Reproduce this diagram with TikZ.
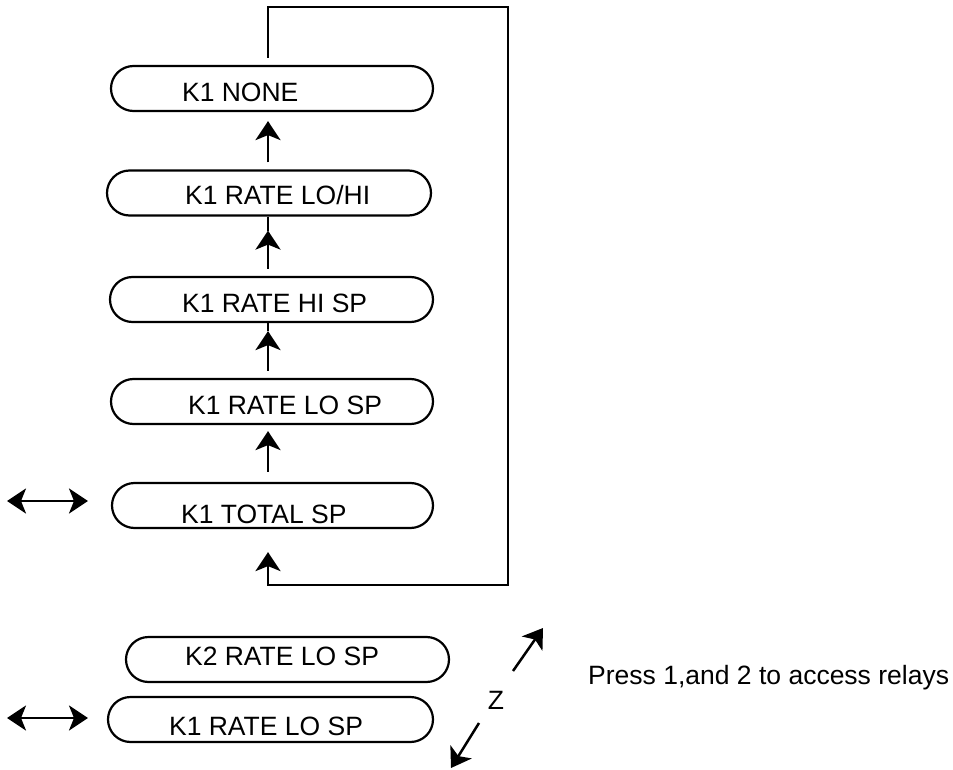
\documentclass[tikz,border=0pt]{standalone}
\usepackage{fontspec}
\setmainfont{Liberation Sans}
\usetikzlibrary{arrows.meta}
\begin{document}
\begin{tikzpicture}[x=1pt,y=-1pt,
  stadium/.style={draw, line width=2.2pt, rounded corners=22.5pt,
    minimum height=45pt, inner sep=0pt},
  lbl/.style={font=\fontsize{26.5}{30}\selectfont, inner sep=0pt, anchor=base west},
  line/.style={line width=2.5pt},
  tip/.style={Stealth[length=19pt,width=25pt,inset=5pt]},
  arr/.style={line, -{Stealth[length=19pt,width=25pt,inset=5pt]}},
  dbl/.style={line, {Stealth[length=19pt,width=25pt,inset=5pt]}-{Stealth[length=19pt,width=25pt,inset=5pt]}}]
\useasboundingbox (0,0) rectangle (953,770);

% column of K1 menu items
\node[stadium, minimum width=322pt] (none) at (272,88.5) {};
\node[lbl] (noneT) at ([xshift=72pt,yshift=-13.5pt]none.west) {K1 NONE};
\node[stadium, minimum width=324pt] (lohi) at (269,193) {};
\node[lbl] (lohiT) at ([xshift=79pt,yshift=-12pt]lohi.west) {K1 RATE LO/HI};
\node[stadium, minimum width=323pt] (hisp) at (271.5,299.5) {};
\node[lbl] (hispT) at ([xshift=73pt,yshift=-12.5pt]hisp.west) {K1 RATE HI SP};
\node[stadium, minimum width=322pt] (losp) at (272,401.5) {};
\node[lbl] (lospT) at ([xshift=78pt,yshift=-12.5pt]losp.west) {K1 RATE LO SP};
\node[stadium, minimum width=321pt] (tot) at (272.5,505.5) {};
\node[lbl] (totT) at ([xshift=70pt,yshift=-17.5pt]tot.west) {K1 TOTAL SP};

% relay selector items
\node[stadium, minimum width=323pt] (ktwo) at (287.5,659.5) {};
\node[lbl] (ktwoT) at ([xshift=60pt,yshift=-5.5pt]ktwo.west) {K2 RATE LO SP};
\node[stadium, minimum width=325pt] (kone) at (270.5,719.5) {};
\node[lbl] (koneT) at ([xshift=62pt,yshift=-15.5pt]kone.west) {K1 RATE LO SP};

% vertical axis of the arrows
\coordinate (ax) at (268,0);

% upward steps
\draw[arr, shorten <=7pt, shorten >=9pt] (lohi.north -| ax) -- (none.south -| ax);
\draw[arr, shorten <=7pt, shorten >=14pt] (hisp.north -| ax) -- (lohi.south -| ax);
\draw[line] (lohi.south -| ax) -- ++(0,14);
\draw[arr, shorten <=7pt, shorten >=8pt] (losp.north -| ax) -- (hisp.south -| ax);
\draw[line] (hisp.south -| ax) -- ++(0,8);
\draw[arr, shorten <=10pt, shorten >=6pt] (tot.north -| ax) -- (losp.south -| ax);

% wrap-around from the top item back to the first
\coordinate (tr) at (508,7);
\coordinate (br) at (508,585);
\draw[arr, shorten <=7pt, shorten >=23pt] (none.north -| ax) |- (tr) -- (br) -| (tot.south -| ax);

% left/right keys
\coordinate (dA1) at (7,501);
\coordinate (dB1) at (88,501);
\draw[dbl] (dA1) -- (dB1);
\coordinate (dA2) at (7,718);
\coordinate (dB2) at (88,718);
\draw[dbl] (dA2) -- (dB2);

% Z key
\node[lbl, anchor=center] (zkey) at (496,700) {Z};
\coordinate (zu0) at (513,671);
\coordinate (zu1) at (543,628);
\draw[arr] (zu0) -- (zu1);
\coordinate (zd0) at (479,723);
\coordinate (zd1) at (451,768);
\draw[arr] (zd0) -- (zd1);

\node[lbl] (hint) at (588,684) {Press 1,and 2 to access relays};
\end{tikzpicture}
\end{document}
